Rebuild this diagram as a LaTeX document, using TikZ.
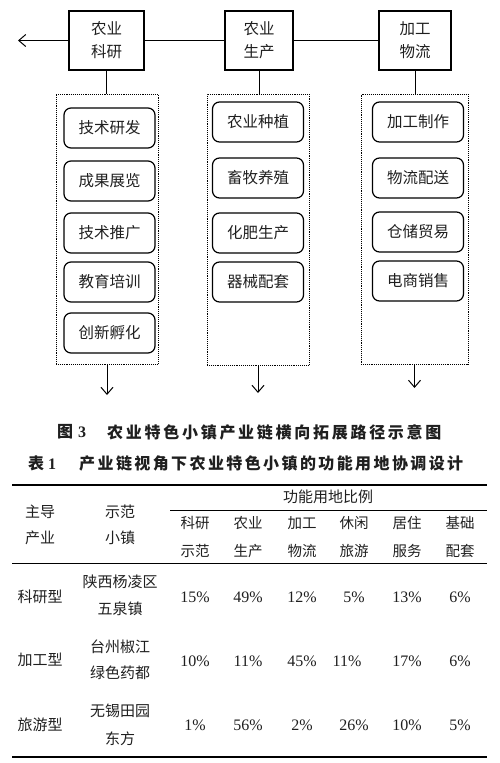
\documentclass[tikz,border=0pt]{standalone}
\usepackage{fontspec}
\setmainfont{Liberation Serif}
\newfontfamily\cjk{Noto Sans CJK SC}
\newfontfamily\cjkcapA[LetterSpace=17]{Noto Sans CJK SC}
\newfontfamily\cjkcapB[LetterSpace=15]{Noto Sans CJK SC}
\usetikzlibrary{arrows.meta,calc}
\tikzset{
  topbox/.style={draw, line width=1.4pt, minimum width=#1, minimum height=59pt, align=center,
    font=\cjk\fontsize{15.5}{23}\selectfont, inner sep=0pt},
  groupbox/.style={draw, densely dotted, line width=0.9pt, inner sep=0pt},
  itembox/.style={draw, rounded corners=7pt, line width=1.2pt, minimum width=91pt, minimum height=40pt,
    font=\cjk\fontsize{15.5}{18}\selectfont, inner sep=0pt},
  link/.style={line width=0.8pt},
  arr/.style={line width=1pt, -{Straight Barb[length=7pt,width=12pt]}},
  cell/.style={font=\cjk\fontsize{15}{27}\selectfont, align=center, inner sep=0pt},
  num/.style={font=\fontsize{16}{18}\selectfont, inner sep=0pt},
  rulethick/.style={line width=1.3pt},
  rulethin/.style={line width=0.7pt},
}
\begin{document}
\begin{tikzpicture}[x=1pt,y=-1pt, every node/.style={text=black!88}]
\useasboundingbox (0,0) rectangle (499,763);
% top boxes
\node[topbox=75pt] (b1) at (106.5,40.5) {农业\\科研};
\node[topbox=68pt] (b2) at (259,40.5) {农业\\生产};
\node[topbox=72pt] (b3) at (415,40.5) {加工\\物流};
\coordinate (left) at (18,40.5);
\draw[arr] (b1.west) -- (left);
\draw[link] (b1.east) -- (b2.west);
\draw[link] (b2.east) -- (b3.west);
% group boxes
\node[groupbox, minimum width=102pt, minimum height=270pt] (d1) at (107,229) {};
\node[groupbox, minimum width=102pt, minimum height=271pt] (d2) at (258,229.5) {};
\node[groupbox, minimum width=107pt, minimum height=270pt] (d3) at (414.5,229) {};
\draw[link] (b1.south) -- (b1.south |- d1.north);
\draw[link] (b2.south) -- (b2.south |- d2.north);
\draw[link] (b3.south) -- (b3.south |- d3.north);
% items
\node[itembox] (l1) at (109.5,128) {技术研发};
\node[itembox] (l2) at (109.5,181) {成果展览};
\node[itembox] (l3) at (109.5,233) {技术推广};
\node[itembox] (l4) at (109.5,282) {教育培训};
\node[itembox] (l5) at (109.5,333) {创新孵化};
\node[itembox] (m1) at (258,122) {农业种植};
\node[itembox] (m2) at (258,178) {畜牧养殖};
\node[itembox] (m3) at (258,233) {化肥生产};
\node[itembox] (m4) at (258,282) {器械配套};
\node[itembox] (r1) at (418,122) {加工制作};
\node[itembox] (r2) at (418,178) {物流配送};
\node[itembox] (r3) at (418,232) {仓储贸易};
\node[itembox] (r4) at (418,281) {电商销售};
% down arrows
\coordinate (o1) at (107,395);
\coordinate (o2) at (258,393);
\coordinate (o3) at (414.5,388);
\draw[arr] (d1.south) -- (o1);
\draw[arr] (d2.south) -- (o2);
\draw[arr] (d3.south) -- (o3);
% captions
\node[anchor=west, inner sep=0pt, font=\fontsize{16}{18}\selectfont] (capA1) at (57,432) {{\cjk\bfseries 图}\hspace{5pt}\textbf{3}};
\node[anchor=west, inner sep=0pt, font=\cjkcapA\bfseries\fontsize{16}{18}\selectfont] (capA2) at (107,432) {农业特色小镇产业链横向拓展路径示意图};
\node[anchor=west, inner sep=0pt, font=\fontsize{16}{18}\selectfont] (capB1) at (28,463) {{\cjk\bfseries 表}\hspace{4pt}\textbf{1}};
\node[anchor=west, inner sep=0pt, font=\cjkcapB\bfseries\fontsize{16}{18}\selectfont] (capB2) at (79,463) {产业链视角下农业特色小镇的功能用地协调设计};
% table rules
\draw[rulethick] (12,485) -- (487,485);
\draw[rulethin] (170,510) -- (487,510);
\draw[line width=0.9pt] (12,563) -- (487,563);
\draw[rulethick] (12,757) -- (487,757);
% table header
\node[cell] (h0) at (328,497) {功能用地比例};
\node[cell, font=\cjk\fontsize{15}{26}\selectfont] (h1) at (40,525) {主导\\产业};
\node[cell, font=\cjk\fontsize{15}{26}\selectfont] (h2) at (120,525) {示范\\小镇};
\node[cell, font=\cjk\fontsize{14.5}{28}\selectfont] (s1) at (195,537) {科研\\示范};
\node[cell, font=\cjk\fontsize{14.5}{28}\selectfont] (s2) at (248,537) {农业\\生产};
\node[cell, font=\cjk\fontsize{14.5}{28}\selectfont] (s3) at (302,537) {加工\\物流};
\node[cell, font=\cjk\fontsize{14.5}{28}\selectfont] (s4) at (354,537) {休闲\\旅游};
\node[cell, font=\cjk\fontsize{14.5}{28}\selectfont] (s5) at (407,537) {居住\\服务};
\node[cell, font=\cjk\fontsize{14.5}{28}\selectfont] (s6) at (460,537) {基础\\配套};
% rows
\node[cell] (t1) at (40,597) {科研型};
\node[cell] (z1) at (120,595.5) {陕西杨凌区\\五泉镇};
\node[cell] (t2) at (40,660) {加工型};
\node[cell, font=\cjk\fontsize{15}{26}\selectfont] (z2) at (120,660) {台州椒江\\绿色药都};
\node[cell] (t3) at (40,725) {旅游型};
\node[cell, font=\cjk\fontsize{15}{28}\selectfont] (z3) at (120,725) {无锡田园\\东方};
\node[num] (v11) at (195,597) {15\%};
\node[num] (v12) at (248,597) {49\%};
\node[num] (v13) at (302,597) {12\%};
\node[num] (v14) at (354,597) {5\%};
\node[num] (v15) at (407,597) {13\%};
\node[num] (v16) at (460,597) {6\%};
\node[num] (v21) at (195,661) {10\%};
\node[num] (v22) at (248,661) {11\%};
\node[num] (v23) at (302,661) {45\%};
\node[num] (v24) at (347,661) {11\%};
\node[num] (v25) at (407,661) {17\%};
\node[num] (v26) at (460,661) {6\%};
\node[num] (v31) at (195,725) {1\%};
\node[num] (v32) at (248,725) {56\%};
\node[num] (v33) at (302,725) {2\%};
\node[num] (v34) at (354,725) {26\%};
\node[num] (v35) at (407,725) {10\%};
\node[num] (v36) at (460,725) {5\%};
\end{tikzpicture}
\end{document}
